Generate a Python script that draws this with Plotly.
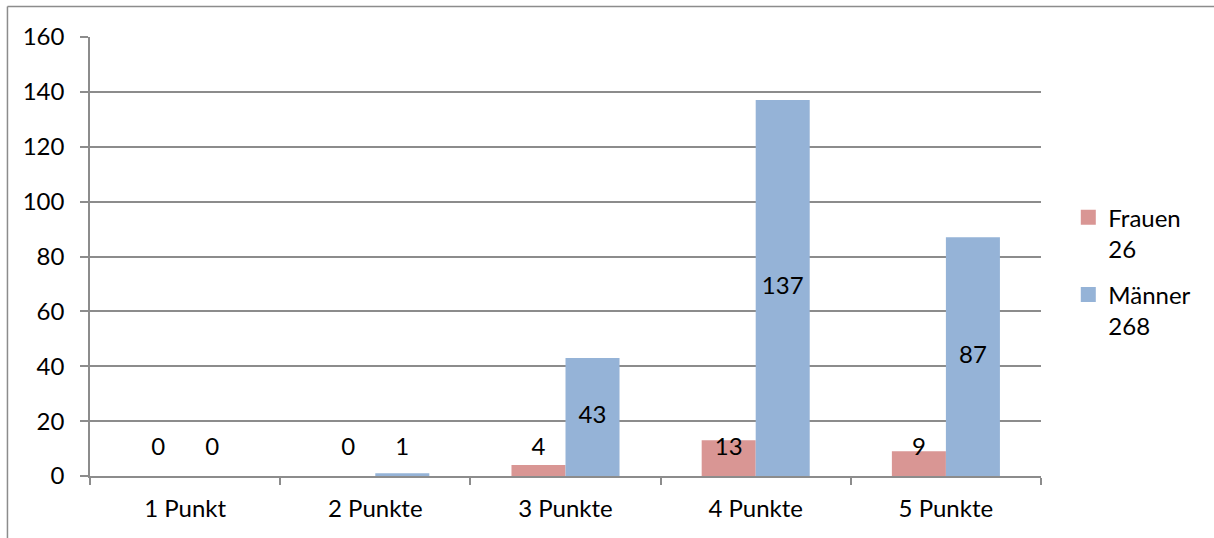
import numpy as np
import plotly.graph_objects as go

categories = ["1 Punkt", "2 Punkte", "3 Punkte", "4 Punkte", "5 Punkte"]
frauen = [0, 0, 4, 13, 9]
maenner = [0, 1, 43, 137, 87]
series_names = ["Frauen", "Männer"]
colors = ["#D99694", "#95B3D7"]
y_ticks = [0, 20, 40, 60, 80, 100, 120, 140, 160]

FONT = "Lato"
FS = 24
GRID = "#8C8C8C"

idx = np.arange(len(categories))
bar_w = 0.284
min_label = 10  # labels of small bars are kept at a minimum height

fig = go.Figure()
for k, (vals, name, col) in enumerate(zip([frauen, maenner], series_names, colors)):
    vals = np.array(vals, dtype=float)
    xs = idx + (k - 0.5) * bar_w
    fig.add_trace(go.Bar(
        x=xs, y=vals, width=bar_w, marker=dict(color=col, line=dict(width=0)),
        showlegend=False, hoverinfo="skip"))
    fig.add_trace(go.Scatter(
        x=xs, y=np.maximum(vals / 2, min_label), mode="text",
        text=[str(int(v)) for v in vals],
        textfont=dict(family=FONT, size=FS, color="#000000"),
        showlegend=False, hoverinfo="skip"))
    fig.add_trace(go.Scatter(
        x=[None], y=[None], mode="markers",
        marker=dict(symbol="square", size=15, color=col),
        name=f"{name}<br>{int(vals.sum())}", legendgroup=name, showlegend=True))

fig.update_layout(
    width=1214, height=538,
    margin=dict(l=90, r=173, t=37, b=62, autoexpand=False),
    paper_bgcolor="white", plot_bgcolor="white",
    font=dict(family=FONT, size=FS, color="#000000"),
    showlegend=True,
    legend=dict(x=1.0287, xanchor="left", y=0.64, yanchor="top",
                valign="top", tracegroupgap=12, itemwidth=30,
                font=dict(family=FONT, size=FS, color="#000000"),
                bgcolor="rgba(0,0,0,0)"),
    xaxis=dict(
        range=[-0.5, len(categories) - 0.5], tickmode="array",
        tickvals=idx, ticktext=categories, ticks="", showgrid=False,
        zeroline=False, showline=True, linecolor=GRID, linewidth=1.5,
        ticklabelstandoff=10,
        minor=dict(tickmode="array", tickvals=list(np.arange(len(categories) + 1) - 0.5),
                   ticks="outside", ticklen=7, tickcolor=GRID, tickwidth=1.5, showgrid=False),
        fixedrange=True),
    yaxis=dict(
        range=[0, 160], tickmode="array", tickvals=y_ticks,
        ticks="outside", ticklen=8, tickcolor=GRID, tickwidth=1.5,
        showgrid=True, gridcolor=GRID, gridwidth=1.5, zeroline=False,
        showline=True, linecolor=GRID, linewidth=1.5, ticklabelstandoff=11,
        fixedrange=True),
)

# outer chart border (only its left and top edges fall inside the frame)
fig.add_shape(type="line", xref="paper", yref="paper",
              x0=-0.0868, x1=-0.0868, y0=-0.5, y1=1.0694,
              line=dict(color=GRID, width=1.5), layer="below")
fig.add_shape(type="line", xref="paper", yref="paper",
              x0=-0.0868, x1=2.0, y0=1.0694, y1=1.0694,
              line=dict(color=GRID, width=1.5), layer="below")

fig.write_html("out.html")
